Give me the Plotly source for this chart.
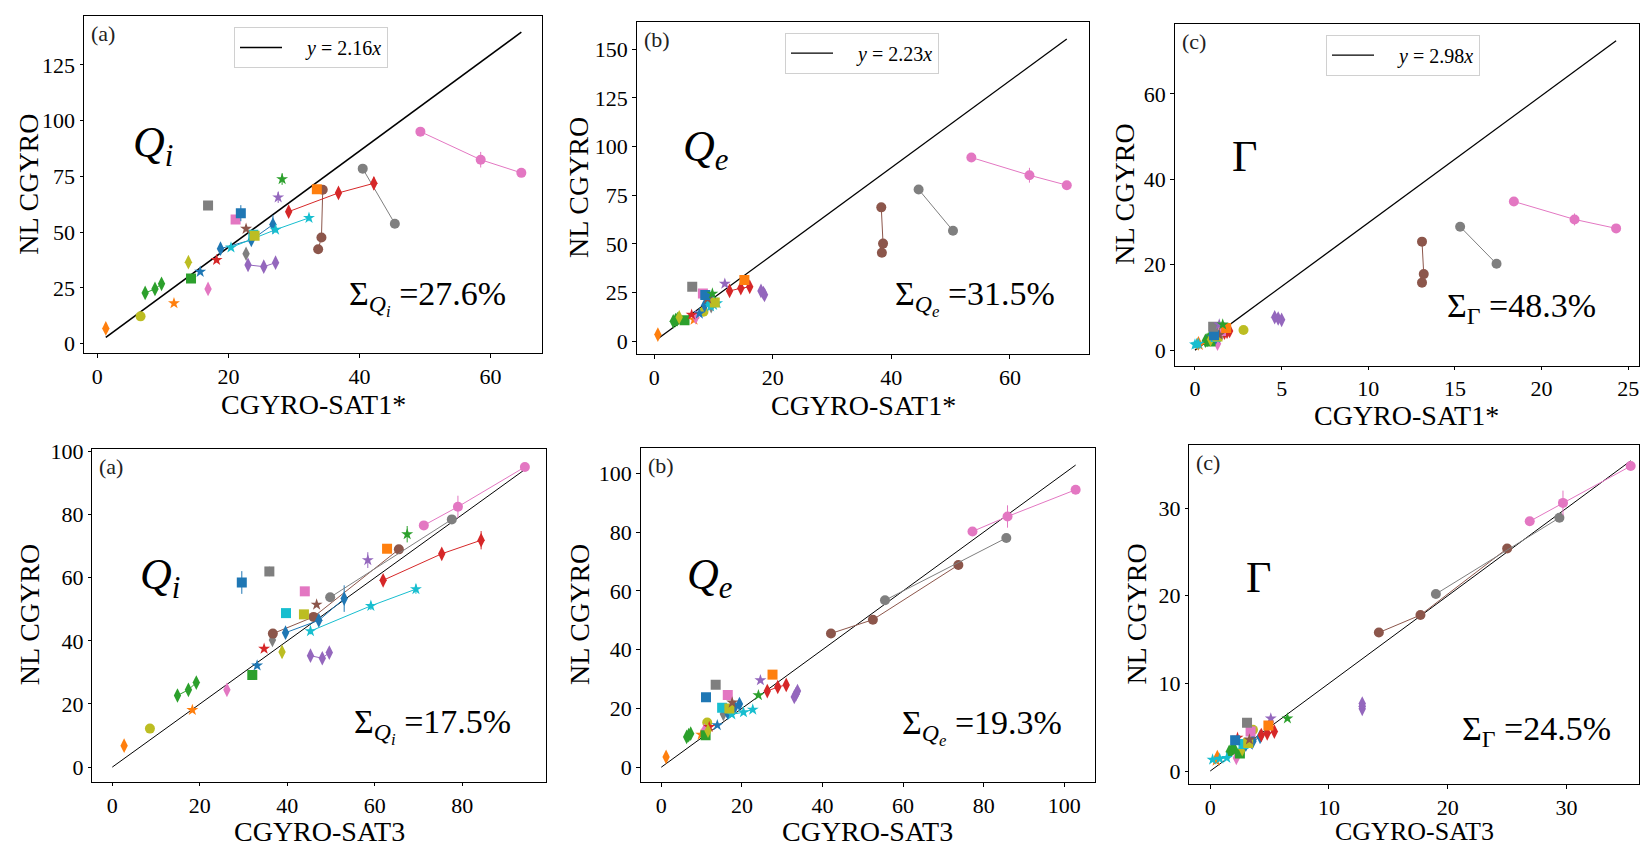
import plotly.graph_objects as go

W, H = 1645, 849

# ---------------- data ----------------
# one entry per case; multi-point entries are scans joined by a line
GROUP_COLORS = [
    "#ff7f0e", "#bcbd22", "#2ca02c", "#ff7f0e", "#e377c2", "#2ca02c", "#1f77b4",
    "#d62728", "#7f7f7f", "#bcbd22", "#8c564b", "#1f77b4", "#7f7f7f", "#e377c2",
    "#d62728", "#17becf", "#17becf", "#bcbd22", "#e377c2", "#8c564b", "#9467bd",
    "#1f77b4", "#7f7f7f", "#9467bd", "#ff7f0e", "#2ca02c",
]
GROUP_SYMBOLS = [
    "diamond-tall", "circle", "diamond-tall", "star", "diamond-tall", "square", "star",
    "star", "diamond-tall", "diamond-tall", "circle", "diamond-tall", "circle", "circle",
    "diamond-tall", "star", "square", "square", "square", "star", "diamond-tall",
    "square", "square", "star", "square", "star",
]

# ion heat flux
QI_NL = [[6.8], [12.2], [22.7, 24.5, 26.8], [18.1], [24.5], [29.2], [32.2], [37.5], [40.3], [36.5],
         [42.3, 47.6, 69.0], [42.6, 46.5, 53.4], [53.8, 78.5], [95.1, 82.5, 76.6],
         [59.2, 67.6, 71.9], [43.1, 51.1, 56.4], [48.8], [48.4], [55.7], [51.5],
         [35.3, 34.5, 36.3], [58.5], [62.0], [65.6], [69.2], [73.8]]
QI_SAT1 = [[1.3], [6.6], [7.3, 8.8, 9.8], [11.7], [16.9], [14.3], [15.7], [18.2], [22.7], [13.9],
           [33.7, 34.2, 34.4], [18.8, 23.5, 26.8], [45.4, 40.5], [49.3, 58.5, 64.7],
           [29.2, 36.8, 42.2], [20.4, 27.2, 32.3], [23.8], [24.0], [21.1], [22.7],
           [23.0, 25.4, 27.2], [21.9], [16.9], [27.6], [33.5], [28.2]]
QI_SAT3 = [[2.7], [8.6], [14.9, 17.4, 19.2], [18.3], [26.2], [32.0], [33.1], [34.7], [36.6], [38.8],
           [36.7, 46.0, 65.5], [39.6, 47.2, 53.0], [49.8, 77.6], [94.3, 79.0, 71.2],
           [61.9, 75.3, 84.3], [45.3, 59.1, 69.4], [39.7], [43.8], [44.0], [46.7],
           [45.3, 48.0, 49.6], [29.6], [35.9], [58.4], [62.8], [67.4]]
QI_ERR = [[0.5], [0.5], [0.5, 0.5, 0.5], [0.5], [0.8], [0.5], [0.8], [0.5], [1.0], [1.8],
          [0.8, 0.8, 1.2], [1.0, 1.0, 4.2], [0.6, 0.6], [0.6, 3.5, 0.6],
          [1.0, 1.0, 2.9], [1.0, 1.3, 1.5], [0.8], [1.3], [0.6], [0.8],
          [0.8, 0.8, 0.8], [3.6], [1.5], [2.5], [1.2], [2.6]]

# electron heat flux
QE_NL = [[3.5], [15.2], [10.3, 10.9, 11.4], [11.1], [12.5], [10.9], [14.3], [13.7], [18.1], [12.4],
         [45.5, 50.2, 68.8], [18.5, 20.3, 21.5], [56.8, 78.0], [94.4, 85.3, 80.2],
         [25.9, 27.3, 28.0], [18.0, 18.7, 19.6], [20.2], [20.0], [24.6], [22.0],
         [23.9, 24.8, 25.9], [23.8], [28.1], [29.6], [31.5], [24.5]]
QE_SAT1 = [[0.6], [8.3], [3.2, 3.6, 3.9], [6.7], [7.0], [5.1], [7.6], [6.3], [9.6], [4.2],
           [38.4, 38.6, 38.3], [8.5, 9.3, 9.8], [50.4, 44.6], [53.5, 63.3, 69.6],
           [12.7, 14.6, 16.1], [9.5, 10.0, 10.6], [9.6], [10.2], [8.2], [9.0],
           [18.6, 18.4, 18.0], [8.6], [6.4], [11.9], [15.2], [9.8]]
QE_SAT3 = [[1.2], [11.4], [6.3, 6.8, 7.3], [9.9], [10.7], [11.0], [13.9], [11.9], [15.4], [11.6],
           [42.1, 52.5, 73.7], [16.5, 18.2, 19.4], [55.5, 85.6], [102.8, 85.9, 77.2],
           [26.3, 28.9, 31.0], [17.5, 20.4, 22.7], [15.1], [16.9], [16.5], [17.6],
           [33.0, 33.4, 33.8], [11.1], [13.5], [24.6], [27.6], [24.1]]
QE_ERR = [[0.3], [0.4], [0.3, 0.3, 0.3], [0.3], [0.3], [0.3], [0.3], [0.3], [0.4], [0.4],
          [0.6, 0.6, 1.5], [0.4, 0.4, 0.8], [0.6, 0.6], [0.6, 3.8, 0.6],
          [0.5, 0.5, 0.8], [0.4, 0.4, 0.4], [0.4], [0.4], [0.4], [0.5],
          [0.5, 0.5, 0.5], [0.5], [0.4], [0.6], [0.5], [0.6]]

# particle flux
GAMMA_NL = [[1.6], [4.7], [2.2, 2.4, 2.6], [1.2], [1.5], [2.0], [3.0], [3.8], [3.6], [2.5],
            [15.8, 17.8, 25.4], [3.0, 3.4, 3.9], [20.2, 28.9], [34.8, 30.6, 28.5],
            [4.1, 4.3, 4.5], [1.3, 1.4, 1.5], [3.1], [3.2], [4.5], [3.6],
            [7.1, 7.4, 7.7], [3.5], [5.5], [6.0], [5.2], [6.0]]
GAMMA_SAT1 = [[0.2], [2.8], [0.6, 0.7, 0.8], [0.25], [1.3], [0.9], [1.0], [1.2], [1.4], [0.9],
              [13.1, 13.2, 13.1], [1.2, 1.4, 1.5], [17.4, 15.3], [18.4, 21.9, 24.3],
              [1.7, 1.85, 2.0], [0.0, 0.1, 0.2], [1.2], [1.3], [1.5], [1.4],
              [5.0, 4.8, 4.6], [1.1], [1.05], [1.4], [1.8], [1.6]]
GAMMA_SAT3 = [[0.6], [3.6], [1.6, 1.8, 2.0], [0.5], [2.2], [2.5], [3.3], [2.3], [3.6], [2.7],
              [14.2, 17.7, 25.0], [3.0, 3.6, 4.2], [19.0, 29.4], [35.4, 29.7, 26.9],
              [4.3, 4.8, 5.4], [0.2, 0.8, 1.4], [2.8], [3.2], [3.4], [3.3],
              [12.8, 12.8, 12.8], [2.1], [3.1], [5.1], [4.9], [6.5]]
GAMMA_ERR = [[0.1], [0.1], [0.1, 0.1, 0.1], [0.1], [0.1], [0.1], [0.1], [0.1], [0.1], [0.1],
             [0.2, 0.2, 0.4], [0.1, 0.1, 0.1], [0.2, 0.2], [0.2, 1.4, 0.2],
             [0.1, 0.1, 0.2], [0.1, 0.1, 0.1], [0.1], [0.1], [0.1], [0.1],
             [0.1, 0.1, 0.1], [0.1], [0.1], [0.1], [0.1], [0.1]]

FIT_SLOPES_SAT1 = [2.16, 2.23, 2.98]
FIT_SLOPE_SAT3 = 1.0
SIGMA_SAT1 = ["27.6", "31.5", "48.3"]
SIGMA_SAT3 = ["17.5", "19.3", "24.5"]
PANEL_TAGS = ["(a)", "(b)", "(c)"]
FLUX_LABELS = ["<i>Q</i><sub><i>i</i></sub>", "<i>Q</i><sub><i>e</i></sub>", "Γ"]
SIGMA_SUBS = ["<i>Q<sub>i</sub></i>", "<i>Q<sub>e</sub></i>", "Γ"]
X_TITLES = ["CGYRO-SAT1*", "CGYRO-SAT3"]
Y_TITLE = "NL CGYRO"

XTICKS = [[0, 20, 40, 60], [0, 20, 40, 60], [0, 5, 10, 15, 20, 25],
          [0, 20, 40, 60, 80], [0, 20, 40, 60, 80, 100], [0, 10, 20, 30]]
YTICKS = [[0, 25, 50, 75, 100, 125], [0, 25, 50, 75, 100, 125, 150], [0, 20, 40, 60],
          [0, 20, 40, 60, 80, 100], [0, 20, 40, 60, 80, 100], [0, 10, 20, 30]]

# ---------------- layout geometry (pixels) ----------------
# (left, right, top, bottom) of each plotting box
BOXES = [(84, 542.3, 7.3, 349.3), (636.7, 1089.3, 13.3, 350), (1174.7, 1639, 15, 361.7),
         (92.3, 545.7, 446, 783.7), (640.7, 1095, 445, 784.3), (1189.3, 1639, 442.3, 786.3)]
XRANGES = [(-2.03, 67.9), (-2.97, 73.4), (-1.17, 25.62),
           (-4.57, 99.06), (-5.1, 107.6), (-1.76, 36.1)]
YRANGES = [(-4.4, 146.9), (-6.5, 163.9), (-3.62, 76.4),
           (-4.6, 100.9), (-5.1, 108.7), (-1.5, 37.2)]
SYMBOL_POS = [(153, 138), (705, 143), (1244, 150), (160, 577), (709, 577), (1258, 577)]
SIGMA_POS = [(427, 293), (975, 293), (1521, 303), (432, 727), (982, 728), (1536, 732)]
YTITLE_X = [29, 578, 1125, 29, 580, 1137]
XTITLE_Y = [401, 402, 412, 834, 834, 834]
XTITLE_SIZE = [28, 28, 28, 28, 28, 26]
LEGEND_POS = [(234, 18.3), (785, 24), (1326, 26)]

FONT = "Liberation Serif"
SIZES = {"circle": 10, "square": 10, "star": 9, "diamond-tall": 10.5}


def px_x(v):
    return v / W


def px_y(v):
    return 1 - v / H


fig = go.Figure()

nl_sets = [QI_NL, QE_NL, GAMMA_NL]
err_sets = [QI_ERR, QE_ERR, GAMMA_ERR]
sat_sets = [[QI_SAT1, QE_SAT1, GAMMA_SAT1], [QI_SAT3, QE_SAT3, GAMMA_SAT3]]

annotations = []
for p in range(6):
    row, col = divmod(p, 3)
    ax = "" if p == 0 else str(p + 1)
    xa, ya = "x" + ax, "y" + ax
    nl = nl_sets[col]
    err = err_sets[col]
    sat = sat_sets[row][col]

    # reference line
    if row == 0:
        k = FIT_SLOPES_SAT1[col]
        xs_all = [v for g in sat for v in g]
        x0, x1 = min(xs_all), max(xs_all)
        fig.add_trace(go.Scatter(
            x=[x0, x1], y=[k * x0, k * x1], mode="lines",
            line=dict(color="black", width=1.6 if col == 0 else 1.3),
            name=f"\u2003<i>y</i> = {k:.2f}<i>x</i>",
            legend="legend" if col == 0 else f"legend{col + 1}",
            showlegend=True, xaxis=xa, yaxis=ya, hoverinfo="skip"))
    else:
        k = FIT_SLOPE_SAT3
        x1 = max(v for g in sat for v in g)
        fig.add_trace(go.Scatter(
            x=[0, x1], y=[0, k * x1], mode="lines",
            line=dict(color="black", width=1),
            showlegend=False, xaxis=xa, yaxis=ya, hoverinfo="skip"))

    # cases
    for g in range(len(GROUP_COLORS)):
        c = GROUP_COLORS[g]
        s = GROUP_SYMBOLS[g]
        fig.add_trace(go.Scatter(
            x=sat[g], y=nl[g],
            mode="lines+markers" if len(nl[g]) > 1 else "markers",
            line=dict(color=c, width=1),
            marker=dict(color=c, symbol=s, size=SIZES[s], line=dict(width=0)),
            error_y=dict(type="data", array=err[g], color=c, thickness=1, width=0),
            showlegend=False, xaxis=xa, yaxis=ya))

    l, r, t, b = BOXES[p]
    fig.update_layout({
        ("xaxis" + ax): dict(
            domain=[px_x(l), px_x(r)], range=list(XRANGES[p]), anchor=ya,
            tickvals=XTICKS[p], ticks="outside", ticklen=3.5, tickwidth=1, tickcolor="black",
            showline=True, linecolor="black", linewidth=1, mirror=True,
            showgrid=False, zeroline=False,
            tickfont=dict(family=FONT, size=22, color="black")),
        ("yaxis" + ax): dict(
            domain=[px_y(b), px_y(t)], range=list(YRANGES[p]), anchor=xa,
            tickvals=YTICKS[p], ticks="outside", ticklen=3.5, tickwidth=1, tickcolor="black",
            showline=True, linecolor="black", linewidth=1, mirror=True,
            showgrid=False, zeroline=False,
            tickfont=dict(family=FONT, size=22, color="black")),
    })

    # panel tag
    annotations.append(dict(
        text=PANEL_TAGS[col], x=px_x(l + 5), y=px_y(t + 18), xref="paper", yref="paper",
        xanchor="left", yanchor="middle", showarrow=False,
        font=dict(family=FONT, size=22, color="#222")))
    # flux symbol
    sx, sy = SYMBOL_POS[p]
    annotations.append(dict(
        text=FLUX_LABELS[col], x=px_x(sx), y=px_y(sy), xref="paper", yref="paper",
        xanchor="center", yanchor="middle", showarrow=False,
        font=dict(family=FONT, size=44, color="black")))
    # spread statistic
    sig = SIGMA_SAT1[col] if row == 0 else SIGMA_SAT3[col]
    gx, gy = SIGMA_POS[p]
    annotations.append(dict(
        text=f"Σ<sub>{SIGMA_SUBS[col]}</sub> ={sig}%", x=px_x(gx), y=px_y(gy),
        xref="paper", yref="paper", xanchor="center", yanchor="middle", showarrow=False,
        font=dict(family=FONT, size=34, color="black")))
    # axis titles
    annotations.append(dict(
        text=X_TITLES[row], x=px_x((l + r) / 2), y=px_y(XTITLE_Y[p]),
        xref="paper", yref="paper", xanchor="center", yanchor="middle", showarrow=False,
        borderpad=0, font=dict(family=FONT, size=XTITLE_SIZE[p], color="black")))
    annotations.append(dict(
        text=Y_TITLE, x=px_x(YTITLE_X[p]), y=px_y((t + b) / 2), textangle=-90,
        xref="paper", yref="paper", xanchor="center", yanchor="middle", showarrow=False,
        borderpad=0, font=dict(family=FONT, size=28, color="black")))

legend_style = dict(bgcolor="rgba(255,255,255,0.8)", bordercolor="#d0d0d0", borderwidth=1,
                    font=dict(family=FONT, size=20, color="black"),
                    xanchor="left", yanchor="top", itemwidth=42)
legends = {}
for i, (lx, ly) in enumerate(LEGEND_POS):
    key = "legend" if i == 0 else f"legend{i + 1}"
    legends[key] = dict(legend_style, x=px_x(lx), y=px_y(ly))

fig.update_layout(
    width=W, height=H, autosize=False,
    margin=dict(l=0, r=0, t=0, b=0),
    paper_bgcolor="white", plot_bgcolor="white",
    annotations=annotations,
    **legends,
)

fig.write_html("out.html")
